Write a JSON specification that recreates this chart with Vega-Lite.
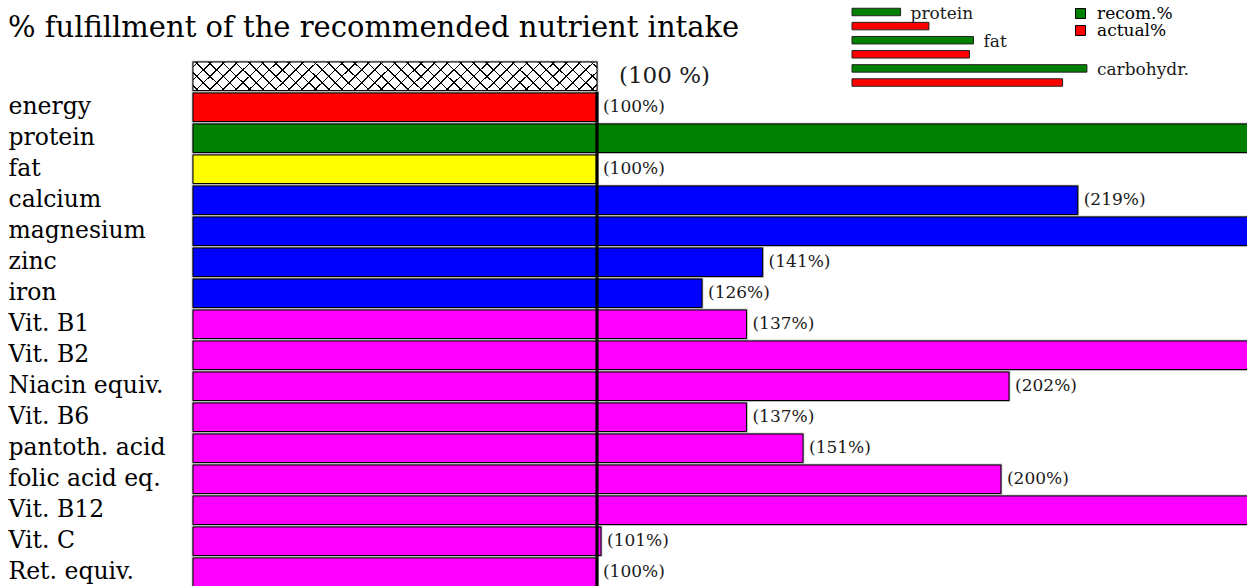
{
  "$schema": "https://vega.github.io/schema/vega-lite/v6.json",
  "width": 1247,
  "height": 586,
  "padding": 0,
  "autosize": {"type": "none"},
  "background": "white",
  "config": {"view": {"stroke": null}, "font": "DejaVu Serif"},
  "title": {
    "text": "% fulfillment of the recommended nutrient intake",
    "anchor": "start",
    "frame": "group",
    "orient": "top",
    "font": "DejaVu Serif",
    "fontSize": 29,
    "fontWeight": "normal",
    "color": "black",
    "baseline": "alphabetic",
    "offset": 0,
    "dx": 8,
    "dy": 66
  },
  "datasets": {
    "main": [
      {"nutrient": "ref", "group": "ref", "value": 100, "label": "(100 %)"},
      {"nutrient": "energy", "group": "energy", "value": 100, "label": "(100%)"},
      {"nutrient": "protein", "group": "protein", "value": 280, "label": "(280%)"},
      {"nutrient": "fat", "group": "fat", "value": 100, "label": "(100%)"},
      {"nutrient": "calcium", "group": "mineral", "value": 219, "label": "(219%)"},
      {"nutrient": "magnesium", "group": "mineral", "value": 290, "label": "(290%)"},
      {"nutrient": "zinc", "group": "mineral", "value": 141, "label": "(141%)"},
      {"nutrient": "iron", "group": "mineral", "value": 126, "label": "(126%)"},
      {"nutrient": "Vit. B1", "group": "vitamin", "value": 137, "label": "(137%)"},
      {"nutrient": "Vit. B2", "group": "vitamin", "value": 320, "label": "(320%)"},
      {"nutrient": "Niacin equiv.", "group": "vitamin", "value": 202, "label": "(202%)"},
      {"nutrient": "Vit. B6", "group": "vitamin", "value": 137, "label": "(137%)"},
      {"nutrient": "pantoth. acid", "group": "vitamin", "value": 151, "label": "(151%)"},
      {"nutrient": "folic acid eq.", "group": "vitamin", "value": 200, "label": "(200%)"},
      {"nutrient": "Vit. B12", "group": "vitamin", "value": 450, "label": "(450%)"},
      {"nutrient": "Vit. C", "group": "vitamin", "value": 101, "label": "(101%)"},
      {"nutrient": "Ret. equiv.", "group": "vitamin", "value": 100, "label": "(100%)"}
    ],
    "macro": [
      {"bar": "protein recom", "macro": "protein", "type": "recom.%", "value": 12},
      {"bar": "protein actual", "macro": "protein", "type": "actual%", "value": 19},
      {"bar": "fat recom", "macro": "fat", "type": "recom.%", "value": 30},
      {"bar": "fat actual", "macro": "fat", "type": "actual%", "value": 29},
      {"bar": "carbohydr. recom", "macro": "carbohydr.", "type": "recom.%", "value": 58},
      {"bar": "carbohydr. actual", "macro": "carbohydr.", "type": "actual%", "value": 52}
    ]
  },
  "layer": [
    {
      "data": {"name": "main"},
      "encoding": {
        "y": {
          "field": "nutrient",
          "type": "nominal",
          "scale": {
            "domain": ["ref", "energy", "protein", "fat", "calcium", "magnesium", "zinc", "iron", "Vit. B1", "Vit. B2", "Niacin equiv.", "Vit. B6", "pantoth. acid", "folic acid eq.", "Vit. B12", "Vit. C", "Ret. equiv."],
            "range": [62, 586.5],
            "paddingInner": 0.08,
            "paddingOuter": 0
          },
          "axis": {
            "title": null,
            "domain": false,
            "ticks": false,
            "tickSize": 0,
            "grid": false,
            "labelAlign": "left",
            "labelBaseline": "middle",
            "labelPadding": -8,
            "labelFont": "DejaVu Serif",
            "labelFontSize": 23.5,
            "labelColor": "black",
            "labelLimit": 0,
            "labelExpr": "datum.value == 'ref' ? '' : datum.value"
          }
        },
        "x": {
          "field": "value",
          "type": "quantitative",
          "scale": {"domain": [0, 260.9], "range": [193, 1247]},
          "axis": null
        }
      },
      "layer": [
        {
          "mark": {"type": "bar", "fill": "#a8a8a8", "stroke": "#a8a8a8", "strokeWidth": 2.5, "clip": true}
        },
        {
          "transform": [{"filter": "datum.nutrient != 'ref'"}],
          "mark": {"type": "bar", "stroke": "black", "strokeWidth": 1, "clip": true},
          "encoding": {
            "color": {
              "field": "group",
              "type": "nominal",
              "scale": {"domain": ["energy", "protein", "fat", "mineral", "vitamin"], "range": ["#ff0000", "#008000", "#ffff00", "#0000ff", "#ff00ff"]},
              "legend": null
            }
          }
        },
        {
          "transform": [{"filter": "datum.nutrient == 'ref'"}],
          "mark": {
            "type": "bar",
            "stroke": "black",
            "strokeWidth": 1,
            "fill": {
              "gradient": "linear",
              "x1": 0, "y1": 0, "x2": 1.072, "y2": 0.0772,
              "stops": [
                {"offset":0.0100,"color":"#fff"},{"offset":0.0100,"color":"#000"},{"offset":0.0137,"color":"#000"},{"offset":0.0137,"color":"#fff"},
                {"offset":0.0403,"color":"#fff"},{"offset":0.0403,"color":"#000"},{"offset":0.0440,"color":"#000"},{"offset":0.0440,"color":"#fff"},
                {"offset":0.0706,"color":"#fff"},{"offset":0.0706,"color":"#000"},{"offset":0.0743,"color":"#000"},{"offset":0.0743,"color":"#fff"},
                {"offset":0.1009,"color":"#fff"},{"offset":0.1009,"color":"#000"},{"offset":0.1046,"color":"#000"},{"offset":0.1046,"color":"#fff"},
                {"offset":0.1312,"color":"#fff"},{"offset":0.1312,"color":"#000"},{"offset":0.1349,"color":"#000"},{"offset":0.1349,"color":"#fff"},
                {"offset":0.1615,"color":"#fff"},{"offset":0.1615,"color":"#000"},{"offset":0.1652,"color":"#000"},{"offset":0.1652,"color":"#fff"},
                {"offset":0.1918,"color":"#fff"},{"offset":0.1918,"color":"#000"},{"offset":0.1955,"color":"#000"},{"offset":0.1955,"color":"#fff"},
                {"offset":0.2221,"color":"#fff"},{"offset":0.2221,"color":"#000"},{"offset":0.2258,"color":"#000"},{"offset":0.2258,"color":"#fff"},
                {"offset":0.2524,"color":"#fff"},{"offset":0.2524,"color":"#000"},{"offset":0.2561,"color":"#000"},{"offset":0.2561,"color":"#fff"},
                {"offset":0.2827,"color":"#fff"},{"offset":0.2827,"color":"#000"},{"offset":0.2864,"color":"#000"},{"offset":0.2864,"color":"#fff"},
                {"offset":0.3130,"color":"#fff"},{"offset":0.3130,"color":"#000"},{"offset":0.3167,"color":"#000"},{"offset":0.3167,"color":"#fff"},
                {"offset":0.3433,"color":"#fff"},{"offset":0.3433,"color":"#000"},{"offset":0.3470,"color":"#000"},{"offset":0.3470,"color":"#fff"},
                {"offset":0.3736,"color":"#fff"},{"offset":0.3736,"color":"#000"},{"offset":0.3773,"color":"#000"},{"offset":0.3773,"color":"#fff"},
                {"offset":0.4039,"color":"#fff"},{"offset":0.4039,"color":"#000"},{"offset":0.4076,"color":"#000"},{"offset":0.4076,"color":"#fff"},
                {"offset":0.4342,"color":"#fff"},{"offset":0.4342,"color":"#000"},{"offset":0.4379,"color":"#000"},{"offset":0.4379,"color":"#fff"},
                {"offset":0.4645,"color":"#fff"},{"offset":0.4645,"color":"#000"},{"offset":0.4682,"color":"#000"},{"offset":0.4682,"color":"#fff"},
                {"offset":0.4948,"color":"#fff"},{"offset":0.4948,"color":"#000"},{"offset":0.4985,"color":"#000"},{"offset":0.4985,"color":"#fff"},
                {"offset":0.5251,"color":"#fff"},{"offset":0.5251,"color":"#000"},{"offset":0.5288,"color":"#000"},{"offset":0.5288,"color":"#fff"},
                {"offset":0.5554,"color":"#fff"},{"offset":0.5554,"color":"#000"},{"offset":0.5591,"color":"#000"},{"offset":0.5591,"color":"#fff"},
                {"offset":0.5857,"color":"#fff"},{"offset":0.5857,"color":"#000"},{"offset":0.5894,"color":"#000"},{"offset":0.5894,"color":"#fff"},
                {"offset":0.6160,"color":"#fff"},{"offset":0.6160,"color":"#000"},{"offset":0.6197,"color":"#000"},{"offset":0.6197,"color":"#fff"},
                {"offset":0.6463,"color":"#fff"},{"offset":0.6463,"color":"#000"},{"offset":0.6500,"color":"#000"},{"offset":0.6500,"color":"#fff"},
                {"offset":0.6766,"color":"#fff"},{"offset":0.6766,"color":"#000"},{"offset":0.6803,"color":"#000"},{"offset":0.6803,"color":"#fff"},
                {"offset":0.7069,"color":"#fff"},{"offset":0.7069,"color":"#000"},{"offset":0.7106,"color":"#000"},{"offset":0.7106,"color":"#fff"},
                {"offset":0.7372,"color":"#fff"},{"offset":0.7372,"color":"#000"},{"offset":0.7409,"color":"#000"},{"offset":0.7409,"color":"#fff"},
                {"offset":0.7675,"color":"#fff"},{"offset":0.7675,"color":"#000"},{"offset":0.7712,"color":"#000"},{"offset":0.7712,"color":"#fff"},
                {"offset":0.7978,"color":"#fff"},{"offset":0.7978,"color":"#000"},{"offset":0.8015,"color":"#000"},{"offset":0.8015,"color":"#fff"},
                {"offset":0.8281,"color":"#fff"},{"offset":0.8281,"color":"#000"},{"offset":0.8318,"color":"#000"},{"offset":0.8318,"color":"#fff"},
                {"offset":0.8584,"color":"#fff"},{"offset":0.8584,"color":"#000"},{"offset":0.8621,"color":"#000"},{"offset":0.8621,"color":"#fff"},
                {"offset":0.8887,"color":"#fff"},{"offset":0.8887,"color":"#000"},{"offset":0.8924,"color":"#000"},{"offset":0.8924,"color":"#fff"},
                {"offset":0.9190,"color":"#fff"},{"offset":0.9190,"color":"#000"},{"offset":0.9227,"color":"#000"},{"offset":0.9227,"color":"#fff"},
                {"offset":0.9493,"color":"#fff"},{"offset":0.9493,"color":"#000"},{"offset":0.9530,"color":"#000"},{"offset":0.9530,"color":"#fff"},
                {"offset":0.9796,"color":"#fff"},{"offset":0.9796,"color":"#000"},{"offset":0.9833,"color":"#000"},{"offset":0.9833,"color":"#fff"}
              ]
            }
          }
        },
        {
          "transform": [{"filter": "datum.nutrient == 'ref'"}],
          "mark": {
            "type": "bar",
            "strokeWidth": 0,
            "fill": {
              "gradient": "linear",
              "x1": 0, "y1": 1, "x2": 1.072, "y2": 0.9228,
              "stops": [
                {"offset":0.0100,"color":"transparent"},{"offset":0.0100,"color":"#000"},{"offset":0.0137,"color":"#000"},{"offset":0.0137,"color":"transparent"},
                {"offset":0.0403,"color":"transparent"},{"offset":0.0403,"color":"#000"},{"offset":0.0440,"color":"#000"},{"offset":0.0440,"color":"transparent"},
                {"offset":0.0706,"color":"transparent"},{"offset":0.0706,"color":"#000"},{"offset":0.0743,"color":"#000"},{"offset":0.0743,"color":"transparent"},
                {"offset":0.1009,"color":"transparent"},{"offset":0.1009,"color":"#000"},{"offset":0.1046,"color":"#000"},{"offset":0.1046,"color":"transparent"},
                {"offset":0.1312,"color":"transparent"},{"offset":0.1312,"color":"#000"},{"offset":0.1349,"color":"#000"},{"offset":0.1349,"color":"transparent"},
                {"offset":0.1615,"color":"transparent"},{"offset":0.1615,"color":"#000"},{"offset":0.1652,"color":"#000"},{"offset":0.1652,"color":"transparent"},
                {"offset":0.1918,"color":"transparent"},{"offset":0.1918,"color":"#000"},{"offset":0.1955,"color":"#000"},{"offset":0.1955,"color":"transparent"},
                {"offset":0.2221,"color":"transparent"},{"offset":0.2221,"color":"#000"},{"offset":0.2258,"color":"#000"},{"offset":0.2258,"color":"transparent"},
                {"offset":0.2524,"color":"transparent"},{"offset":0.2524,"color":"#000"},{"offset":0.2561,"color":"#000"},{"offset":0.2561,"color":"transparent"},
                {"offset":0.2827,"color":"transparent"},{"offset":0.2827,"color":"#000"},{"offset":0.2864,"color":"#000"},{"offset":0.2864,"color":"transparent"},
                {"offset":0.3130,"color":"transparent"},{"offset":0.3130,"color":"#000"},{"offset":0.3167,"color":"#000"},{"offset":0.3167,"color":"transparent"},
                {"offset":0.3433,"color":"transparent"},{"offset":0.3433,"color":"#000"},{"offset":0.3470,"color":"#000"},{"offset":0.3470,"color":"transparent"},
                {"offset":0.3736,"color":"transparent"},{"offset":0.3736,"color":"#000"},{"offset":0.3773,"color":"#000"},{"offset":0.3773,"color":"transparent"},
                {"offset":0.4039,"color":"transparent"},{"offset":0.4039,"color":"#000"},{"offset":0.4076,"color":"#000"},{"offset":0.4076,"color":"transparent"},
                {"offset":0.4342,"color":"transparent"},{"offset":0.4342,"color":"#000"},{"offset":0.4379,"color":"#000"},{"offset":0.4379,"color":"transparent"},
                {"offset":0.4645,"color":"transparent"},{"offset":0.4645,"color":"#000"},{"offset":0.4682,"color":"#000"},{"offset":0.4682,"color":"transparent"},
                {"offset":0.4948,"color":"transparent"},{"offset":0.4948,"color":"#000"},{"offset":0.4985,"color":"#000"},{"offset":0.4985,"color":"transparent"},
                {"offset":0.5251,"color":"transparent"},{"offset":0.5251,"color":"#000"},{"offset":0.5288,"color":"#000"},{"offset":0.5288,"color":"transparent"},
                {"offset":0.5554,"color":"transparent"},{"offset":0.5554,"color":"#000"},{"offset":0.5591,"color":"#000"},{"offset":0.5591,"color":"transparent"},
                {"offset":0.5857,"color":"transparent"},{"offset":0.5857,"color":"#000"},{"offset":0.5894,"color":"#000"},{"offset":0.5894,"color":"transparent"},
                {"offset":0.6160,"color":"transparent"},{"offset":0.6160,"color":"#000"},{"offset":0.6197,"color":"#000"},{"offset":0.6197,"color":"transparent"},
                {"offset":0.6463,"color":"transparent"},{"offset":0.6463,"color":"#000"},{"offset":0.6500,"color":"#000"},{"offset":0.6500,"color":"transparent"},
                {"offset":0.6766,"color":"transparent"},{"offset":0.6766,"color":"#000"},{"offset":0.6803,"color":"#000"},{"offset":0.6803,"color":"transparent"},
                {"offset":0.7069,"color":"transparent"},{"offset":0.7069,"color":"#000"},{"offset":0.7106,"color":"#000"},{"offset":0.7106,"color":"transparent"},
                {"offset":0.7372,"color":"transparent"},{"offset":0.7372,"color":"#000"},{"offset":0.7409,"color":"#000"},{"offset":0.7409,"color":"transparent"},
                {"offset":0.7675,"color":"transparent"},{"offset":0.7675,"color":"#000"},{"offset":0.7712,"color":"#000"},{"offset":0.7712,"color":"transparent"},
                {"offset":0.7978,"color":"transparent"},{"offset":0.7978,"color":"#000"},{"offset":0.8015,"color":"#000"},{"offset":0.8015,"color":"transparent"},
                {"offset":0.8281,"color":"transparent"},{"offset":0.8281,"color":"#000"},{"offset":0.8318,"color":"#000"},{"offset":0.8318,"color":"transparent"},
                {"offset":0.8584,"color":"transparent"},{"offset":0.8584,"color":"#000"},{"offset":0.8621,"color":"#000"},{"offset":0.8621,"color":"transparent"},
                {"offset":0.8887,"color":"transparent"},{"offset":0.8887,"color":"#000"},{"offset":0.8924,"color":"#000"},{"offset":0.8924,"color":"transparent"},
                {"offset":0.9190,"color":"transparent"},{"offset":0.9190,"color":"#000"},{"offset":0.9227,"color":"#000"},{"offset":0.9227,"color":"transparent"},
                {"offset":0.9493,"color":"transparent"},{"offset":0.9493,"color":"#000"},{"offset":0.9530,"color":"#000"},{"offset":0.9530,"color":"transparent"},
                {"offset":0.9796,"color":"transparent"},{"offset":0.9796,"color":"#000"},{"offset":0.9833,"color":"#000"},{"offset":0.9833,"color":"transparent"}
              ]
            }
          }
        },
        {
          "transform": [{"filter": "datum.nutrient != 'ref'"}],
          "mark": {"type": "bar", "color": "black", "height": {"band": 1.09}},
          "encoding": {
            "x": {"datum": 99.6, "type": "quantitative"},
            "x2": {"datum": 100.4}
          }
        },
        {
          "transform": [{"filter": "datum.nutrient != 'ref' && datum.value < 258"}],
          "mark": {"type": "text", "align": "left", "baseline": "middle", "dx": 6, "font": "DejaVu Serif", "fontSize": 17, "color": "#1a1a1a", "clip": true},
          "encoding": {"text": {"field": "label", "type": "nominal"}}
        },
        {
          "transform": [{"filter": "datum.nutrient == 'ref'"}],
          "mark": {"type": "text", "align": "left", "baseline": "middle", "dx": 22, "font": "DejaVu Serif", "fontSize": 23, "color": "#1a1a1a"},
          "encoding": {"text": {"field": "label", "type": "nominal"}}
        }
      ]
    },
    {
      "data": {"name": "macro"},
      "encoding": {
        "y": {
          "field": "bar",
          "type": "nominal",
          "scale": {
            "domain": ["protein recom", "protein actual", "fat recom", "fat actual", "carbohydr. recom", "carbohydr. actual"],
            "range": [4.95, 89.55],
            "paddingInner": 0.47,
            "paddingOuter": 0.235
          },
          "axis": null
        },
        "x": {
          "field": "value",
          "type": "quantitative",
          "scale": {"domain": [0, 100], "range": [852, 1257]},
          "axis": null
        }
      },
      "layer": [
        {
          "mark": {"type": "bar", "stroke": "#222", "strokeWidth": 1},
          "encoding": {
            "color": {
              "field": "type",
              "type": "nominal",
              "scale": {"domain": ["recom.%", "actual%"], "range": ["#008000", "#ff0000"]},
              "legend": {
                "orient": "none",
                "legendX": 1072,
                "legendY": 5,
                "title": null,
                "padding": 0,
                "symbolType": "square",
                "symbolSize": 100,
                "symbolStrokeColor": "black",
                "symbolStrokeWidth": 1,
                "labelFont": "DejaVu Serif",
                "labelFontSize": 17,
                "labelColor": "black",
                "labelOffset": 8,
                "rowPadding": -3
              }
            }
          }
        },
        {
          "transform": [{"filter": "datum.type == 'recom.%'"}],
          "mark": {"type": "text", "align": "left", "baseline": "middle", "dx": 10, "dy": 2, "font": "DejaVu Serif", "fontSize": 17, "color": "#1a1a1a"},
          "encoding": {"text": {"field": "macro", "type": "nominal"}}
        }
      ]
    }
  ],
  "resolve": {"scale": {"x": "independent", "y": "independent", "color": "independent"}}
}
